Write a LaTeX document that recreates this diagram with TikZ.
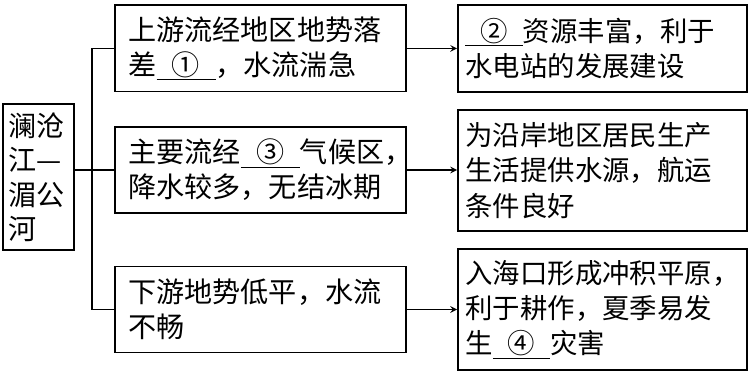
\documentclass[tikz,border=0pt]{standalone}
\usepackage{fontspec}
\setmainfont{Noto Sans CJK SC}
\usepackage{tikz}

\newcommand{\fillin}[1]{\underline{\makebox[2.1em]{#1}}}

\begin{document}
\begin{tikzpicture}[
    river/.style={rectangle, draw, line width=1.1pt, text width=1.5cm, inner xsep=0.14cm, align=left, minimum width=1.775cm, minimum height=3.65cm, font=\fontsize{20}{24.5}\selectfont},
    cause/.style={rectangle, draw, line width=1.1pt, text width=6.6cm, inner xsep=0.33cm, align=left, minimum width=7.275cm, minimum height=2.16cm, font=\fontsize{20}{25}\selectfont},
    effect/.style={rectangle, draw, line width=1.1pt, text width=6.85cm, inner xsep=0.19cm, align=left, minimum width=7.225cm, font=\fontsize{19.5}{25}\selectfont},
    link/.style={line width=1.1pt},
    arrow/.style={->, >=stealth, line width=1.1pt}
  ]
    \useasboundingbox (0,0) rectangle (18.75,9.3);

    % River
    \node[river] (river) at (0.96,4.875) {澜沧\\江—\\湄公\\河};

    % Causes
    \node[cause] (upper) at (6.51,8.09) {上游流经地区地势落\\差\fillin{①}，水流湍急};
    \node[cause] (middle) at (6.51,5.05) {主要流经\fillin{③}气候区，\\降水较多，无结冰期};
    \node[cause] (lower) at (6.51,1.5625) {下游地势低平，水流\\不畅};

    % Effects
    \node[effect, minimum height=2.175cm] (power) at (15.06,8.09) {\fillin{②}资源丰富，利于\\水电站的发展建设};
    \node[effect, minimum height=3.025cm] (supply) at (15.06,5.0375) {为沿岸地区居民生产\\生活提供水源，航运\\条件良好};
    \node[effect, minimum height=3.025cm] (delta) at (15.06,1.5625) {入海口形成冲积平原，\\利于耕作，夏季易发\\生\fillin{④}灾害};

    % Bus line
    \coordinate (bus) at (2.3,0);
    \draw[link] (upper.west) -- (upper.west -| bus) -- (lower.west -| bus) -- (lower.west);
    \draw[link] (middle.west) -- (middle.west -| river.east);

    % Arrows
    \draw[arrow] (upper) -- (power);
    \draw[arrow] (middle.east) -- (middle.east -| supply.west);
    \draw[arrow] (lower) -- (delta);

  \end{tikzpicture}
\end{document}
